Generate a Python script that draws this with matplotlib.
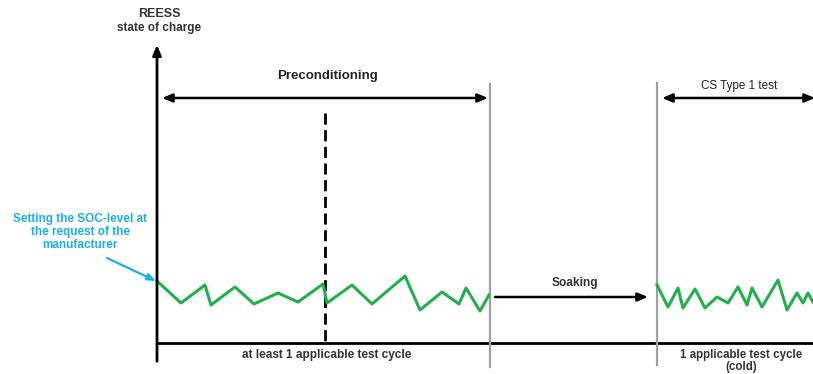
import matplotlib.pyplot as plt

plt.rcParams['font.family'] = ['Liberation Sans', 'DejaVu Sans']

# SOC trace during preconditioning (pixel positions)
pre_x = [157, 181, 205, 211, 235, 254, 278, 298, 323, 327, 352, 372, 405, 420, 442, 459, 466, 480, 489]
pre_y = [281, 303, 285, 305, 287, 304, 293, 302, 284, 303, 285, 304, 276, 310, 292, 304, 288, 311, 295]

# SOC trace during the cold test cycle
cold_x = [657, 668, 678, 683, 695, 705, 717, 728, 738, 747, 752, 762, 778, 787, 797, 803, 808, 813]
cold_y = [285, 307, 288, 308, 289, 308, 297, 303, 287, 305, 288, 307, 280, 310, 293, 303, 293, 302]

# phase boundaries
x_origin = 157
x_cycle_split = 325
x_soak_start = 490
x_cold_start = 657
y_base = 343

green = '#22b04f'
cyan = '#1aaeee'
txt = '#333333'

fig = plt.figure(figsize=(8.13, 3.74), dpi=100)
ax = fig.add_axes([0, 0, 1, 1])
ax.set_xlim(0, 813)
ax.set_ylim(374, 0)
ax.axis('off')

# axes
ax.annotate('', xy=(x_origin, 42), xytext=(x_origin, 364),
            arrowprops=dict(arrowstyle='-|>,head_length=0.6,head_width=0.25', color='black', lw=2))
ax.plot([x_origin, 813], [y_base, y_base], color='black', lw=2, solid_capstyle='butt')

# phase separators
ax.plot([x_soak_start, x_soak_start], [84, 367], color='#a0a0a0', lw=1.6)
ax.plot([x_cold_start, x_cold_start], [83, 365], color='#a0a0a0', lw=1.6)
ax.plot([x_cycle_split, x_cycle_split], [113, y_base], color='black', lw=2, ls=(0, (4, 2)))

# SOC traces
ax.plot(pre_x, pre_y, color=green, lw=2.2)
ax.plot(cold_x, cold_y, color=green, lw=2.2)

# phase arrows
dbl = dict(arrowstyle='<|-|>,head_length=0.6,head_width=0.25', color='black', lw=1.8,
           shrinkA=0, shrinkB=0)
ax.annotate('', xy=(162, 98), xytext=(488, 98), arrowprops=dbl)
ax.annotate('', xy=(662, 98), xytext=(815, 98), arrowprops=dbl)
ax.annotate('', xy=(648, 297), xytext=(495, 297),
            arrowprops=dict(arrowstyle='-|>,head_length=0.6,head_width=0.25', color='black', lw=1.8,
                            shrinkA=0, shrinkB=0))

# labels
ax.text(159, 14, 'REESS', ha='center', va='center', fontsize=9, fontweight='bold', color=txt)
ax.text(159, 28, 'state of charge', ha='center', va='center', fontsize=8.5, fontweight='bold', color=txt)
ax.text(327, 76, 'Preconditioning', ha='center', va='center', fontsize=9.5, fontweight='bold', color='#222222')
ax.text(739, 86, 'CS Type 1 test', ha='center', va='center', fontsize=8.4, color='#222222')
ax.text(575, 283, 'Soaking', ha='center', va='center', fontsize=8.6, fontweight='bold', color=txt)
ax.text(327, 355, 'at least 1 applicable test cycle', ha='center', va='center', fontsize=8.5,
        fontweight='bold', color=txt)
ax.text(741, 349, '1 applicable test cycle\n(cold)', ha='center', va='top', fontsize=8.3,
        fontweight='bold', color=txt, linespacing=1.0)
ax.text(80, 232, 'Setting the SOC-level at\nthe request of the\nmanufacturer', ha='center', va='center',
        fontsize=8.5, fontweight='bold', color=cyan, linespacing=1.1)
ax.annotate('', xy=(156, 281), xytext=(107, 258),
            arrowprops=dict(arrowstyle='-|>,head_length=0.5,head_width=0.2', color=cyan, lw=1.6,
                            shrinkA=0, shrinkB=0))

fig.savefig('out.png', dpi=100)
